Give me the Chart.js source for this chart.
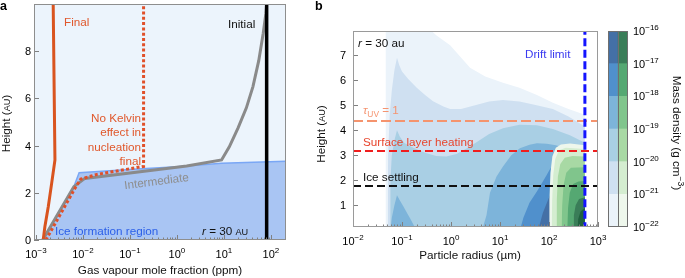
<!DOCTYPE html>
<html>
<head>
<meta charset="utf-8">
<script src="https://cdn.jsdelivr.net/npm/chart.js@4.4.1/dist/chart.umd.min.js"></script>
<style>
  html, body { margin: 0; padding: 0; background: #fff; }
  #figure { position: relative; width: 685px; height: 278px; overflow: hidden; }
  #figure canvas { position: absolute; top: 0; }
</style>
</head>
<body>
<div id="figure">
  <canvas id="panelA" width="300" height="278" style="left:0"></canvas>
  <canvas id="panelB" width="320" height="278" style="left:300px"></canvas>
  <canvas id="colorbar" width="85" height="278" style="left:600px"></canvas>
</div>
<script>
// ---------- panel a: gas vapour mole fraction (ppm) vs height (AU) ----------
const iceRegionX = [1.40e-3, 6.4e-3, 8.3e-3, 0.117, 1.0, 8.9, 300];
const iceRegionY = [0, 2.26, 2.85, 3.0, 3.1, 3.25, 3.35];

const intermediateX = [1.39e-3, 6.4e-3, 1.1e-2, 0.1, 1.61, 8.9, 13, 20, 30, 41.4, 55, 68.5, 78, 81];
const intermediateY = [0, 2.26, 2.61, 2.84, 3.14, 3.39, 3.95, 4.75, 5.6, 6.5, 7.6, 8.76, 9.6, 10];

const noKelvinX = [1.63e-3, 6.8e-3, 9.0e-3, 0.02, 0.195, 0.195];
const noKelvinY = [0, 2.2, 2.58, 2.78, 3.12, 10];

const finalX = [1.43e-3, 1.55e-3, 1.83e-3, 2.16e-3, 2.54e-3, 2.33e-3];
const finalY = [0, 0.56, 1.41, 2.40, 3.39, 10];

const initialX = [81, 81];
const initialY = [0, 10];

const panelAXRange = [9.1e-4, 209];
const panelAYRange = [0, 10];
const panelAYTicks = [0, 2, 4, 6, 8];

// ---------- panel b: particle radius (um) vs height (AU), mass density contours ----------
const iceBlueL1X = [0.046, 0.046, 0.3, 0.5, 0.96, 2.45, 5, 11.5, 25, 56.6, 120, 250, 540, 540];
const iceBlueL1Y = [0, 8.2, 8.2, 7.8, 7.4, 6.5, 6.15, 5.9, 5.7, 5.41, 5.1, 4.85, 4.62, 0];

const iceBlueL2X = [0.051, 0.052, 0.056, 0.062, 0.07, 0.079, 0.088, 0.1, 0.134, 0.2, 0.3, 0.43, 0.7, 0.96, 1.6, 3.1, 6, 11.5, 25, 56, 120, 250, 540, 540];
const iceBlueL2Y = [0, 3, 4.6, 5.6, 6.4, 6.9, 6.6, 6.35, 6.05, 5.7, 5.4, 5.16, 4.95, 4.85, 4.85, 5.0, 5.15, 5.21, 5.15, 5.0, 4.85, 4.55, 4.15, 0];

const iceBlueL3X = [0.057, 0.058, 0.062, 0.07, 0.079, 0.09, 0.11, 0.15, 0.22, 0.32, 0.5, 0.8, 1.3, 2.2, 3.5, 6, 11.5, 25, 56.6, 120, 267, 540, 540];
const iceBlueL3Y = [0, 2.0, 3.0, 3.6, 4.0, 3.75, 3.5, 3.35, 3.2, 3.08, 2.97, 2.95, 3.05, 3.3, 3.55, 3.85, 4.08, 4.22, 4.2, 4.05, 3.8, 3.5, 0];

const iceBlueL4SpikeX = [0.058, 0.062, 0.07, 0.079, 0.09, 0.107, 0.13, 0.147, 0.185, 0.2];
const iceBlueL4SpikeY = [0, 0.5, 1.0, 1.4, 1.2, 0.95, 0.65, 0.47, 0.1, 0];

const iceBlueL4X = [4.3, 5.3, 6.25, 8.5, 11.5, 17, 25.5, 40, 56.6, 90, 138, 300, 540, 540];
const iceBlueL4Y = [0, 0.6, 1.5, 2.15, 2.55, 3.0, 3.28, 3.42, 3.48, 3.46, 3.4, 3.2, 3.0, 0];

const iceBlueL5X = [25.5, 30, 40, 56.6, 75, 89, 105, 120, 200, 540, 540];
const iceBlueL5Y = [0, 0.5, 1.1, 1.55, 1.95, 2.2, 2.45, 2.6, 2.7, 2.6, 0];

const iceBlueL6X = [60, 75, 95, 110, 540, 540];
const iceBlueL6Y = [0, 0.7, 1.2, 1.5, 1.5, 0];

const silicateG1X = [100, 102, 107, 117, 138, 175, 270, 540, 540];
const silicateG1Y = [0, 1.2, 2.3, 2.95, 3.3, 3.43, 3.47, 3.4, 0];
const silicateG2X = [113, 116, 122, 134, 160, 220, 540, 540];
const silicateG2Y = [0, 1.2, 2.2, 2.85, 3.2, 3.3, 3.25, 0];
const silicateG3X = [140, 144, 152, 170, 210, 300, 540, 540];
const silicateG3Y = [0, 1.2, 2.15, 2.65, 2.9, 2.97, 2.95, 0];
const silicateG4X = [180, 186, 198, 225, 280, 540, 540];
const silicateG4Y = [0, 1.0, 1.8, 2.3, 2.5, 2.52, 0];
const silicateG5X = [235, 245, 265, 310, 400, 540, 540];
const silicateG5Y = [0, 0.9, 1.5, 1.85, 1.95, 1.97, 0];
const silicateG6X = [310, 322, 350, 410, 540, 540];
const silicateG6Y = [0, 0.6, 1.0, 1.25, 1.32, 0];
const silicateG7X = [380, 395, 440, 540, 540];
const silicateG7Y = [0, 0.45, 0.75, 0.9, 0];

// horizontal reference heights (AU): tau_UV = 1, surface layer heating, ice settling
const referenceHeights = [4.37, 3.17, 1.77];
const driftLimitRadius = [540, 540];
const driftLimitY = [0, 8];

const panelBXRange = [1e-2, 1e3];
const panelBYRange = [0.13, 7.97];
const panelBYTicks = [1, 2, 3, 4, 5, 6, 7];

// ---------- colorbar ----------
const densityExponents = [-22, -21, -20, -19, -18, -17, -16];
const blueShades = ["#ebf3fa", "#cfe0f1", "#a9cfe4", "#7db4da", "#5090cc", "#4470a6"];
const greenShades = ["#eef7ec", "#d4edd0", "#a8d9a4", "#80c58c", "#55a872", "#3a7d58"];

// ---------- helpers ----------
const FONT = '"Liberation Sans", Arial, Helvetica, sans-serif';
const TEXT = 11.7;
const TICK = 11;

function pts(xs, ys) {
    return xs.map((x, i) => ({ x: x, y: ys[i] }));
}

function fontFor(s, size) {
    return `${s.italic ? "italic " : ""}${s.bold ? "bold " : ""}${(size * (s.k || 1)).toFixed(2)}px ${FONT}`;
}

function drawRich(ctx, segs, x, y, opt) {
    const size = opt.size || TEXT;
    let w = 0;
    for (const s of segs) {
        ctx.font = fontFor(s, size);
        w += ctx.measureText(s.t).width;
    }
    let cx = opt.align === "center" ? x - w / 2 : opt.align === "right" ? x - w : x;
    ctx.save();
    ctx.textAlign = "left";
    ctx.textBaseline = "alphabetic";
    for (const s of segs) {
        ctx.font = fontFor(s, size);
        ctx.fillStyle = s.color || opt.color || "#000";
        ctx.fillText(s.t, cx, y + (s.dy || 0));
        cx += ctx.measureText(s.t).width;
    }
    ctx.restore();
}

function drawRotated(ctx, segs, x, y, angle, opt) {
    ctx.save();
    ctx.translate(x, y);
    ctx.rotate(angle);
    drawRich(ctx, segs, 0, 0, opt);
    ctx.restore();
}

function powSegs(k) {
    const e = k < 0 ? "\u2212" + Math.abs(k) : String(k);
    return [{ t: "10" }, { t: e, k: 0.73, dy: -5 }];
}

function drawFrame(chart, opt) {
    const { ctx, chartArea: a, scales: { x, y } } = chart;
    ctx.save();
    ctx.lineWidth = 1;
    ctx.strokeStyle = opt.tickColor;
    ctx.beginPath();
    const k0 = Math.floor(Math.log10(x.min) + 1e-9);
    const k1 = Math.ceil(Math.log10(x.max) - 1e-9);
    for (let k = k0; k <= k1; k++) {
        for (let m = 1; m < 10; m++) {
            const v = m * Math.pow(10, k);
            if (v < x.min * 0.999 || v > x.max * 1.001) continue;
            const px = Math.round(x.getPixelForValue(v)) + 0.5;
            ctx.moveTo(px, a.bottom);
            ctx.lineTo(px, a.bottom - (m === 1 ? 5 : 2.5));
        }
    }
    for (const v of opt.yTicks) {
        const py = Math.round(y.getPixelForValue(v)) + 0.5;
        ctx.moveTo(a.left, py);
        ctx.lineTo(a.left + 5, py);
    }
    ctx.stroke();
    ctx.strokeStyle = opt.frameColor;
    ctx.strokeRect(Math.round(a.left) + 0.5, Math.round(a.top) + 0.5,
        Math.round(a.right - a.left) - 1, Math.round(a.bottom - a.top) - 1);

    for (let k = k0; k <= k1; k++) {
        const v = Math.pow(10, k);
        if (v < x.min * 0.999 || v > x.max * 1.001) continue;
        drawRich(ctx, powSegs(k), x.getPixelForValue(v), opt.xLabelY, { align: "center", size: TICK });
    }
    for (const v of opt.yTicks) {
        drawRich(ctx, [{ t: String(v) }], a.left - opt.yLabelGap, y.getPixelForValue(v) + 4,
            { align: "right", size: TICK });
    }
    ctx.restore();
}

function lineSet(xs, ys, style) {
    return Object.assign({
        data: pts(xs, ys),
        pointRadius: 0,
        tension: 0,
        fill: false,
        borderWidth: 0,
    }, style);
}

function fillSet(xs, ys, color) {
    return lineSet(xs, ys, { fill: "start", backgroundColor: color, borderColor: color, borderWidth: 0 });
}

function withOrder(list) {
    // first element is drawn first (lowest layer)
    return list.map((d, i) => Object.assign(d, { order: list.length - i }));
}

function baseOptions(xr, yr, pad, yWidth, xHeight) {
    return {
        responsive: false,
        animation: false,
        devicePixelRatio: 1,
        events: [],
        layout: { padding: pad },
        plugins: { legend: { display: false }, tooltip: { enabled: false } },
        scales: {
            x: {
                type: "logarithmic", min: xr[0], max: xr[1],
                ticks: { display: false }, grid: { display: false }, border: { display: false },
                afterFit(s) { s.height = xHeight; },
            },
            y: {
                type: "linear", min: yr[0], max: yr[1],
                ticks: { display: false }, grid: { display: false }, border: { display: false },
                afterFit(s) { s.width = yWidth; },
            },
        },
    };
}

// ---------- panel a ----------
const ORANGE = "#d9541f";

const panelAPlugin = {
    id: "panelADecor",
    beforeDatasetsDraw(chart) {
        const { ctx, chartArea: a } = chart;
        ctx.save();
        ctx.fillStyle = "#ecf4fc";
        ctx.fillRect(a.left, a.top, a.right - a.left, a.bottom - a.top);
        ctx.restore();
    },
    afterDatasetsDraw(chart) {
        const ctx = chart.ctx;
        drawRich(ctx, [{ t: "Final" }], 64, 26, { color: "#e0582c" });
        drawRich(ctx, [{ t: "Initial" }], 228, 28, { color: "#111" });
        const kelvin = ["No Kelvin", "effect in", "nucleation", "final"];
        kelvin.forEach((t, i) => drawRich(ctx, [{ t: t }], 141, 122 + i * 14.4, { align: "right", color: "#e0582c" }));
        drawRotated(ctx, [{ t: "Intermediate" }], 157, 185, -7.3 * Math.PI / 180, { align: "center", color: "#8e8e8e" });
        drawRich(ctx, [{ t: "Ice formation region" }], 55, 235, { color: "#2b5fe8" });
        drawRich(ctx, [{ t: "r", italic: true }, { t: " = 30 " }, { t: "AU", k: 0.78 }], 202, 235, { color: "#111" });

        drawFrame(chart, { tickColor: "#808080", frameColor: "#8e8e8e", yTicks: panelAYTicks, xLabelY: 258, yLabelGap: 3 });

        drawRich(ctx, [{ t: "Gas vapour mole fraction (ppm)" }], 160, 274, { align: "center", color: "#111" });
        drawRotated(ctx, [{ t: "Height (" }, { t: "AU", k: 0.78 }, { t: ")" }], 9.5, 123.5, -Math.PI / 2, { align: "center", color: "#111" });
        drawRich(ctx, [{ t: "a", bold: true }], 0, 10, { size: 12.5, color: "#000" });
    },
};

new Chart(document.getElementById("panelA"), {
    type: "line",
    data: {
        datasets: withOrder([
            lineSet(iceRegionX, iceRegionY, { fill: "start", backgroundColor: "#a9c5f3", borderColor: "#7aa7f5", borderWidth: 1.5 }),
            lineSet(intermediateX, intermediateY, { borderColor: "#8a8a8a", borderWidth: 3 }),
            lineSet(noKelvinX, noKelvinY, { borderColor: "#e0502a", borderWidth: 3, borderDash: [3, 2.3], borderCapStyle: "butt" }),
            lineSet(finalX, finalY, { borderColor: ORANGE, borderWidth: 3 }),
            lineSet(initialX, initialY, { borderColor: "#000", borderWidth: 3.5 }),
        ]),
    },
    options: baseOptions(panelAXRange, panelAYRange, { top: 4, right: 14, bottom: 0, left: 0 }, 34, 38),
    plugins: [panelAPlugin],
});

// ---------- panel b ----------
const panelBPlugin = {
    id: "panelBDecor",
    afterDatasetsDraw(chart) {
        const ctx = chart.ctx;
        const ox = -300;
        drawRich(ctx, [{ t: "r", italic: true }, { t: " = 30 au" }], 358 + ox, 47, { color: "#111" });
        drawRich(ctx, [{ t: "\u03c4", italic: true }, { t: "UV", k: 0.72, dy: 3 }, { t: " = 1" }], 363 + ox, 114, { color: "#f59470" });
        drawRich(ctx, [{ t: "Surface layer heating" }], 363 + ox, 146, { color: "#e8452d" });
        drawRich(ctx, [{ t: "Ice settling" }], 363 + ox, 181, { color: "#111" });
        drawRich(ctx, [{ t: "Drift limit" }], 525 + ox, 58, { color: "#3a3af0" });

        drawFrame(chart, { tickColor: "#808080", frameColor: "#9a9a9a", yTicks: panelBYTicks, xLabelY: 245, yLabelGap: 7 });

        drawRich(ctx, [{ t: "Particle radius (\u00b5m)" }], 470 + ox, 259, { align: "center", color: "#111" });
        drawRotated(ctx, [{ t: "Height (" }, { t: "AU", k: 0.78 }, { t: ")" }], 325 + ox, 134, -Math.PI / 2, { align: "center", color: "#111" });
        drawRich(ctx, [{ t: "b", bold: true }], 315 + ox, 10, { size: 12.5, color: "#000" });
    },
};

const refStyles = [
    { borderColor: "#f5946e", borderWidth: 2, borderDash: [10, 4] },
    { borderColor: "#f01e1e", borderWidth: 2, borderDash: [8, 4] },
    { borderColor: "#111", borderWidth: 2, borderDash: [8, 4] },
];

new Chart(document.getElementById("panelB"), {
    type: "line",
    data: {
        datasets: withOrder([
            fillSet(iceBlueL1X, iceBlueL1Y, blueShades[0]),
            fillSet(iceBlueL2X, iceBlueL2Y, blueShades[1]),
            fillSet(iceBlueL3X, iceBlueL3Y, blueShades[2]),
            fillSet(iceBlueL4SpikeX, iceBlueL4SpikeY, blueShades[3]),
            fillSet(iceBlueL4X, iceBlueL4Y, blueShades[3]),
            fillSet(iceBlueL5X, iceBlueL5Y, blueShades[4]),
            fillSet(iceBlueL6X, iceBlueL6Y, blueShades[5]),
            fillSet(silicateG1X, silicateG1Y, greenShades[0]),
            fillSet(silicateG2X, silicateG2Y, greenShades[1]),
            fillSet(silicateG3X, silicateG3Y, greenShades[2]),
            fillSet(silicateG4X, silicateG4Y, greenShades[3]),
            fillSet(silicateG5X, silicateG5Y, greenShades[4]),
            fillSet(silicateG6X, silicateG6Y, greenShades[5]),
            fillSet(silicateG7X, silicateG7Y, "#21623f"),
            ...referenceHeights.map((h, i) => lineSet(panelBXRange, [h, h], refStyles[i])),
            lineSet(driftLimitRadius, driftLimitY, { borderColor: "#1414ff", borderWidth: 3, borderDash: [8, 3.5] }),
        ]),
    },
    options: baseOptions(panelBXRange, panelBYRange, { top: 31, right: 22, bottom: 0, left: 0 }, 53, 51),
    plugins: [panelBPlugin],
});

// ---------- colorbar ----------
const colorbarPlugin = {
    id: "colorbarDecor",
    afterDatasetsDraw(chart) {
        const { ctx, chartArea: a, scales: { y } } = chart;
        ctx.save();
        ctx.strokeStyle = "#6f6f6f";
        ctx.lineWidth = 1;
        ctx.strokeRect(Math.round(a.left) + 0.5, Math.round(a.top) + 0.5,
            Math.round(a.right - a.left) - 1, Math.round(a.bottom - a.top) - 1);
        const mid = Math.round((a.left + a.right) / 2) + 0.5;
        ctx.beginPath();
        ctx.moveTo(mid, a.top);
        ctx.lineTo(mid, a.bottom);
        ctx.stroke();
        ctx.restore();
        for (const e of densityExponents) {
            drawRich(ctx, powSegs(e), a.right + 5, y.getPixelForValue(e) + 4, { align: "left", size: TICK });
        }
        drawRotated(ctx, [{ t: "Mass density (g cm" }, { t: "\u22123", k: 0.73, dy: -5 }, { t: ")" }],
            73, (a.top + a.bottom) / 2 + 4, Math.PI / 2, { align: "center", color: "#111" });
    },
};

new Chart(document.getElementById("colorbar"), {
    type: "bar",
    data: {
        labels: ["ice", "silicate"],
        datasets: blueShades.map((c, i) => ({
            data: [
                [densityExponents[i], densityExponents[i + 1]],
                [densityExponents[i], densityExponents[i + 1]],
            ],
            backgroundColor: [c, greenShades[i]],
            borderWidth: 0,
            barPercentage: 1,
            categoryPercentage: 1,
            grouped: false,
        })),
    },
    options: {
        responsive: false,
        animation: false,
        devicePixelRatio: 1,
        events: [],
        layout: { padding: { top: 31, right: 57, bottom: 51, left: 8 } },
        plugins: { legend: { display: false }, tooltip: { enabled: false } },
        scales: {
            x: { display: false },
            y: { display: false, min: densityExponents[0], max: densityExponents[densityExponents.length - 1] },
        },
    },
    plugins: [colorbarPlugin],
});
</script>
</body>
</html>
